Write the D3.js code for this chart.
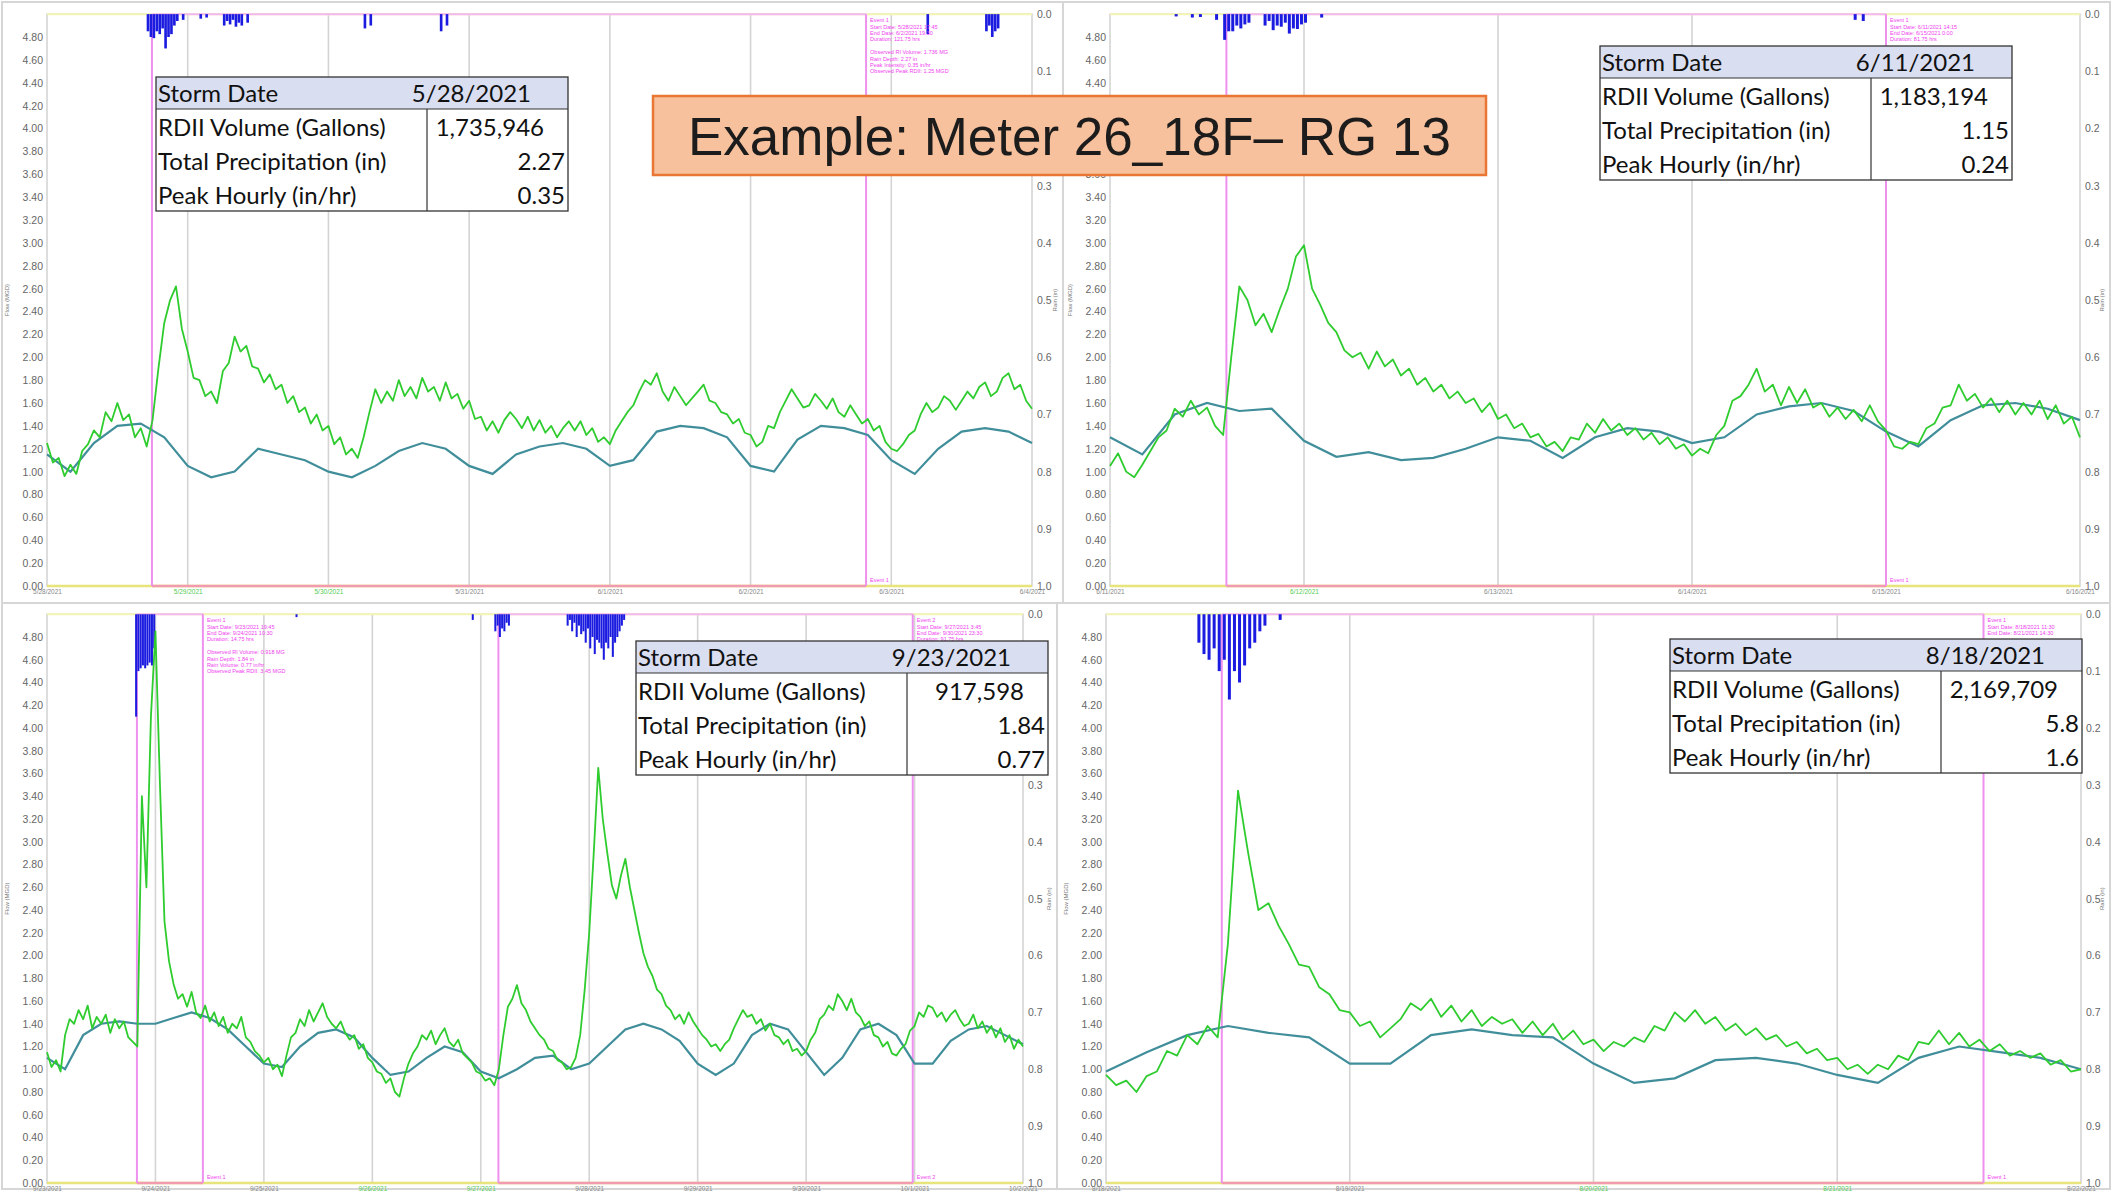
<!DOCTYPE html>
<html>
<head>
<meta charset="utf-8">
<script src="https://cdn.jsdelivr.net/npm/d3@7"></script>
<style>
body { margin: 0; background: #fff; }
svg { display: block; }
</style>
</head>
<body>
<svg id="chart"></svg>
<script>
// ---- data read off the four flow monitor hydrographs ----
// observed flow (MGD), one value per flowStep hours from the panel start
var tlFlow = [1.25,1.08,1.12,0.96,1.06,0.98,1.18,1.24,1.36,1.30,
  1.52,1.44,1.60,1.45,1.50,1.30,1.38,1.22,1.45,1.90,
  2.30,2.50,2.62,2.25,2.05,1.82,1.80,1.66,1.70,1.60,
  1.88,1.95,2.18,2.05,2.10,1.92,1.90,1.78,1.85,1.72,
  1.76,1.60,1.66,1.52,1.56,1.42,1.50,1.36,1.40,1.24,
  1.30,1.15,1.20,1.12,1.30,1.52,1.72,1.60,1.70,1.62,
  1.80,1.66,1.74,1.64,1.82,1.70,1.74,1.62,1.78,1.64,
  1.68,1.55,1.62,1.46,1.48,1.36,1.44,1.34,1.45,1.52,
  1.46,1.38,1.48,1.36,1.45,1.34,1.40,1.30,1.38,1.44,
  1.36,1.44,1.32,1.38,1.26,1.30,1.24,1.36,1.44,1.52,
  1.58,1.70,1.80,1.76,1.86,1.70,1.62,1.74,1.66,1.58,
  1.64,1.70,1.76,1.62,1.60,1.52,1.50,1.42,1.46,1.34,
  1.32,1.22,1.26,1.40,1.38,1.52,1.62,1.72,1.64,1.56,
  1.58,1.68,1.62,1.55,1.64,1.52,1.48,1.58,1.50,1.42,
  1.46,1.36,1.40,1.26,1.20,1.18,1.24,1.32,1.36,1.50,
  1.60,1.52,1.56,1.66,1.62,1.54,1.62,1.70,1.64,1.74,
  1.78,1.66,1.70,1.82,1.86,1.72,1.76,1.62,1.55];
// dry weather flow (MGD), every 4 hours
var tlDwf = [1.15,1.00,1.25,1.40,1.42,1.30,1.05,0.95,1.00,1.20,
  1.15,1.10,1.00,0.95,1.05,1.18,1.25,1.20,1.05,0.98,
  1.15,1.22,1.25,1.20,1.05,1.10,1.35,1.40,1.38,1.30,
  1.05,1.00,1.28,1.40,1.38,1.32,1.10,0.98,1.20,1.35,
  1.38,1.35,1.25];
var tlRainHours = [17,17.5,18,18.5,19,19.5,20,20.5,21,21.5,22,23,26,27,30,30.5,31,31.5,32,32.5,33,34,54,55,67,68,150,160,160.5,161,161.5,162];
var tlRainIn = [0.03,0.04,0.042,0.03,0.035,0.025,0.06,0.04,0.035,0.02,0.012,0.01,0.008,0.006,0.02,0.012,0.018,0.01,0.022,0.015,0.02,0.015,0.025,0.02,0.03,0.02,0.035,0.03,0.02,0.04,0.03,0.025];
var tlEvents = [[17.9, 139.7]];

var trFlow = [1.05,1.16,1.00,0.95,1.06,1.18,1.30,1.36,1.55,1.48,
  1.62,1.50,1.56,1.40,1.32,2.00,2.62,2.50,2.28,2.38,
  2.22,2.42,2.60,2.88,2.98,2.60,2.46,2.30,2.22,2.06,
  2.00,2.04,1.90,2.05,1.92,1.98,1.84,1.90,1.76,1.82,
  1.70,1.76,1.64,1.70,1.60,1.64,1.52,1.60,1.46,1.50,
  1.38,1.42,1.30,1.33,1.22,1.26,1.18,1.30,1.28,1.42,
  1.34,1.46,1.36,1.42,1.32,1.38,1.28,1.34,1.24,1.30,
  1.20,1.24,1.14,1.20,1.16,1.32,1.40,1.62,1.66,1.76,
  1.90,1.70,1.76,1.58,1.74,1.60,1.72,1.56,1.60,1.48,
  1.56,1.46,1.54,1.44,1.58,1.44,1.36,1.22,1.20,1.26,
  1.24,1.38,1.42,1.56,1.58,1.76,1.62,1.68,1.56,1.64,
  1.52,1.62,1.50,1.60,1.50,1.62,1.46,1.58,1.42,1.48,
  1.30];
var trDwf = [1.30,1.15,1.50,1.60,1.53,1.55,1.27,1.13,1.17,1.10,
  1.12,1.20,1.30,1.27,1.12,1.30,1.38,1.35,1.25,1.30,
  1.50,1.57,1.60,1.53,1.35,1.22,1.45,1.58,1.60,1.55,
  1.45];
var trRainHours = [8,10,11,13,14,14.5,15,15.5,16,16.5,17,19,19.5,20,20.5,21,21.5,22,22.5,23,23.5,24,26,92,93];
var trRainIn = [0.004,0.006,0.005,0.01,0.045,0.03,0.03,0.02,0.025,0.018,0.015,0.02,0.012,0.028,0.02,0.022,0.015,0.034,0.025,0.026,0.018,0.015,0.006,0.01,0.012];
var trEvents = [[14.4, 96]];

var blFlow = [1.15,1.02,1.08,0.98,1.30,1.44,1.40,1.52,1.44,1.56,
  1.36,1.46,1.40,1.48,1.32,1.44,1.36,1.42,1.28,1.24,
  1.20,3.40,2.60,4.10,4.85,3.50,2.30,1.95,1.75,1.62,
  1.66,1.55,1.68,1.50,1.45,1.56,1.42,1.50,1.38,1.46,
  1.32,1.40,1.36,1.46,1.28,1.24,1.16,1.12,1.06,1.10,
  1.00,1.04,0.94,1.12,1.28,1.32,1.44,1.38,1.52,1.42,
  1.50,1.58,1.46,1.40,1.36,1.42,1.32,1.26,1.30,1.18,
  1.22,1.10,1.06,0.98,0.96,0.88,0.92,0.80,0.76,0.92,
  1.05,1.14,1.20,1.30,1.26,1.34,1.22,1.30,1.36,1.24,
  1.20,1.26,1.14,1.10,1.06,0.98,0.96,0.90,0.92,0.86,
  1.00,1.30,1.55,1.62,1.74,1.58,1.52,1.42,1.36,1.30,
  1.26,1.18,1.16,1.08,1.06,1.00,1.02,1.10,1.30,1.70,
  2.20,2.90,3.65,3.20,2.90,2.62,2.50,2.70,2.85,2.60,
  2.40,2.20,2.02,1.90,1.82,1.70,1.66,1.56,1.52,1.44,
  1.48,1.40,1.50,1.42,1.36,1.30,1.26,1.20,1.22,1.16,
  1.22,1.26,1.36,1.44,1.52,1.46,1.48,1.40,1.44,1.34,
  1.40,1.30,1.28,1.22,1.26,1.16,1.18,1.12,1.16,1.26,
  1.32,1.44,1.48,1.56,1.52,1.66,1.60,1.52,1.62,1.50,
  1.46,1.38,1.42,1.30,1.28,1.20,1.24,1.14,1.12,1.18,
  1.22,1.34,1.38,1.50,1.46,1.56,1.54,1.46,1.50,1.42,
  1.48,1.52,1.44,1.38,1.40,1.48,1.36,1.42,1.32,1.38,
  1.28,1.36,1.24,1.30,1.18,1.26,1.20];
var blDwf = [1.10,1.00,1.30,1.40,1.42,1.40,1.40,1.45,1.50,1.45,
  1.35,1.20,1.05,1.02,1.20,1.32,1.35,1.28,1.10,0.95,
  0.98,1.10,1.20,1.15,0.98,0.92,1.00,1.10,1.12,1.00,
  1.05,1.20,1.35,1.40,1.35,1.25,1.05,0.95,1.05,1.30,
  1.40,1.35,1.15,0.95,1.10,1.35,1.40,1.30,1.05,1.05,
  1.25,1.35,1.38,1.30,1.22];
var blRainHours = [19.5,20,20.5,21,21.5,22,22.5,23,23.5,55,94,99,99.5,100,100.5,101,101.5,102,
  115,115.5,116,116.5,117,117.5,118,118.5,119,119.5,120,120.5,121,121.5,122,122.5,123,123.5,124,124.5,125,125.5,126,126.5,127,127.5];
var blRainIn = [0.18,0.1,0.095,0.09,0.095,0.09,0.085,0.09,0.06,0.005,0.01,0.03,0.02,0.04,0.025,0.03,0.015,0.02,
  0.02,0.01,0.03,0.015,0.04,0.02,0.035,0.03,0.05,0.025,0.06,0.04,0.07,0.045,0.05,0.06,0.08,0.05,0.06,0.04,0.075,0.05,0.04,0.03,0.02,0.01];
var blEvents = [[19.9, 34.5], [99.9, 191.6]];

var brFlow = [0.95,0.86,0.90,0.80,0.94,0.98,1.16,1.12,1.30,1.22,
  1.38,1.28,2.10,3.45,2.90,2.40,2.46,2.26,2.10,1.92,
  1.90,1.72,1.66,1.52,1.50,1.38,1.42,1.28,1.36,1.44,
  1.58,1.52,1.62,1.46,1.56,1.42,1.52,1.38,1.46,1.40,
  1.44,1.32,1.42,1.30,1.40,1.26,1.34,1.22,1.26,1.16,
  1.24,1.20,1.28,1.24,1.38,1.34,1.50,1.42,1.52,1.40,
  1.46,1.34,1.40,1.30,1.36,1.26,1.30,1.20,1.24,1.14,
  1.18,1.08,1.10,1.00,1.04,0.96,1.04,1.00,1.12,1.08,
  1.24,1.22,1.34,1.22,1.32,1.20,1.26,1.16,1.22,1.12,
  1.16,1.10,1.14,1.04,1.08,0.98,1.00];
var brDwf = [0.98,1.15,1.30,1.38,1.32,1.28,1.05,1.05,1.30,1.35,
  1.30,1.28,1.05,0.88,0.92,1.08,1.10,1.05,0.95,0.88,
  1.10,1.20,1.15,1.10,1.00];
var brRainHours = [9,9.5,10,10.5,11,11.5,12,12.5,13,13.5,14,14.5,15,15.5,17];
var brRainIn = [0.05,0.07,0.08,0.06,0.1,0.08,0.15,0.1,0.12,0.09,0.06,0.05,0.03,0.02,0.01];
var brEvents = [[11.4, 86.4]];

var flowTicks = [0,0.2,0.4,0.6,0.8,1.0,1.2,1.4,1.6,1.8,2.0,2.2,2.4,2.6,2.8,3.0,3.2,3.4,3.6,3.8,4.0,4.2,4.4,4.6,4.8];
var rainTicks = [0,0.1,0.2,0.3,0.4,0.5,0.6,0.7,0.8,0.9,1.0];

var tableLabels = ["Storm Date", "RDII Volume (Gallons)", "Total Precipitation (in)", "Peak Hourly (in/hr)"];
var tlTable = ["5/28/2021", "1,735,946", "2.27", "0.35"];
var trTable = ["6/11/2021", "1,183,194", "1.15", "0.24"];
var blTable = ["9/23/2021", "917,598", "1.84", "0.77"];
var brTable = ["8/18/2021", "2,169,709", "5.8", "1.6"];

var tlNotes = ["Event 1", "Start Date: 5/28/2021 17:45", "End Date: 6/2/2021 19:30", "Duration: 121.75 hrs", "", "Observed RI Volume: 1.736 MG", "Rain Depth: 2.27 in", "Peak Intensity: 0.35 in/hr", "Observed Peak RDII: 1.25 MGD"];
var trNotes = ["Event 1", "Start Date: 6/11/2021 14:15", "End Date: 6/15/2021 0:00", "Duration: 81.75 hrs"];
var blNotes1 = ["Event 1", "Start Date: 9/23/2021 19:45", "End Date: 9/24/2021 10:30", "Duration: 14.75 hrs", "", "Observed RI Volume: 0.918 MG", "Rain Depth: 1.84 in", "Rain Volume: 0.77 in/hr", "Observed Peak RDII: 3.45 MGD"];
var blNotes2 = ["Event 2", "Start Date: 9/27/2021 3:45", "End Date: 9/30/2021 23:30", "Duration: 91.75 hrs"];
var brNotes = ["Event 1", "Start Date: 8/18/2021 11:30", "End Date: 8/21/2021 14:30"];

// ---- layout ----
var W = 2112, H = 1191;
var svg = d3.select("#chart").attr("width", W).attr("height", H);

var panels = [
  {start: new Date(2021, 4, 28), days: 7, flow: tlFlow, flowStep: 1, dwf: tlDwf, rainHours: tlRainHours, rainIn: tlRainIn,
   events: tlEvents, notes: [tlNotes], table: tlTable, greenDays: [1, 2],
   left: 47, right: 1032, zero: 586, y480: 37, frame: [2, 2, 1061, 601], tableX: 156, tableY: 77, leftTitle: 9, rightTitle: 1057},
  {start: new Date(2021, 5, 11), days: 5, flow: trFlow, flowStep: 1, dwf: trDwf, rainHours: trRainHours, rainIn: trRainIn,
   events: trEvents, notes: [trNotes], table: trTable, greenDays: [1],
   left: 1110, right: 2080, zero: 586, y480: 37, frame: [1063, 2, 1047, 601], tableX: 1600, tableY: 46, leftTitle: 1072, rightTitle: 2104},
  {start: new Date(2021, 8, 23), days: 9, flow: blFlow, flowStep: 1, dwf: blDwf, rainHours: blRainHours, rainIn: blRainIn,
   events: blEvents, notes: [blNotes1, blNotes2], table: blTable, greenDays: [3, 4],
   left: 47, right: 1023, zero: 1183, y480: 637, frame: [2, 603, 1055, 586], tableX: 636, tableY: 641, leftTitle: 9, rightTitle: 1051},
  {start: new Date(2021, 7, 18), days: 4, flow: brFlow, flowStep: 1, dwf: brDwf, rainHours: brRainHours, rainIn: brRainIn,
   events: brEvents, notes: [brNotes], table: brTable, greenDays: [2, 3],
   left: 1106, right: 2081, zero: 1183, y480: 637, frame: [1057, 603, 1053, 586], tableX: 1670, tableY: 639, leftTitle: 1068, rightTitle: 2104}
];

var tickFont = "Liberation Sans, Arial, sans-serif";

var atHour = function(p, h) {
  return new Date(p.start.getTime() + h * 3600000);
};

var drawTable = function(g, tx, ty, values) {
  var w = 412, div = 271, hh = 32, rh = 34;
  g.append("rect").attr("x", tx).attr("y", ty).attr("width", w).attr("height", hh + rh * 3)
    .attr("fill", "#fff");
  g.append("rect").attr("x", tx).attr("y", ty).attr("width", w).attr("height", hh)
    .attr("fill", "#d9def0");
  g.append("line").attr("x1", tx).attr("x2", tx + w).attr("y1", ty + hh).attr("y2", ty + hh)
    .attr("stroke", "#333").attr("stroke-width", 1.2);
  g.append("line").attr("x1", tx + div).attr("x2", tx + div).attr("y1", ty + hh).attr("y2", ty + hh + rh * 3)
    .attr("stroke", "#333").attr("stroke-width", 1.2);
  g.append("rect").attr("x", tx).attr("y", ty).attr("width", w).attr("height", hh + rh * 3)
    .attr("fill", "none").attr("stroke", "#333").attr("stroke-width", 1.3);

  var pads = [37, 24, 3, 3];
  var base = function(i) { return i == 0 ? ty + 25 : ty + hh + rh * (i - 1) + 27; };

  g.selectAll(".tlabel").data(tableLabels).enter().append("text")
    .attr("x", tx + 2).attr("y", function(d, i) { return base(i); })
    .attr("font-family", "Lato, sans-serif").attr("font-size", 24).attr("fill", "#111")
    .text(function(d) { return d; });
  g.selectAll(".tvalue").data(values).enter().append("text")
    .attr("x", function(d, i) { return tx + w - pads[i]; })
    .attr("y", function(d, i) { return base(i); })
    .attr("text-anchor", "end")
    .attr("font-family", "Lato, sans-serif").attr("font-size", 24).attr("fill", "#111")
    .text(function(d) { return d; });
};

var drawPanel = function(p) {
  var g = svg.append("g");

  var x = d3.scaleTime().domain([p.start, d3.timeDay.offset(p.start, p.days)]).range([p.left, p.right]);
  var unit = (p.zero - p.y480) / 4.8;
  var y = d3.scaleLinear().domain([0, 5]).range([p.zero, p.zero - 5 * unit]);
  var top = y(5);
  var rain = d3.scaleLinear().domain([0, 1]).range([top, p.zero]);
  var hourW = (p.right - p.left) / (p.days * 24);
  var barW = Math.max(1.8, Math.min(3, hourW * 0.45));

  // panel frame + plot area
  g.append("rect").attr("x", p.frame[0]).attr("y", p.frame[1]).attr("width", p.frame[2]).attr("height", p.frame[3])
    .attr("fill", "#fff").attr("stroke", "#d6d6d6").attr("stroke-width", 2);
  g.append("rect").attr("x", p.left).attr("y", top).attr("width", p.right - p.left).attr("height", p.zero - top)
    .attr("fill", "#fff").attr("stroke", "#d2d2d2").attr("stroke-width", 1.5);

  // day gridlines
  var days = x.ticks(d3.timeDay.every(1));
  g.selectAll(".grid").data(days.slice(1, -1)).enter().append("line")
    .attr("x1", function(d) { return x(d); }).attr("x2", function(d) { return x(d); })
    .attr("y1", top).attr("y2", p.zero)
    .attr("stroke", "#d4d4d4").attr("stroke-width", 1.6);

  // yellow plot edges
  g.append("line").attr("x1", p.left).attr("x2", p.right).attr("y1", top).attr("y2", top)
    .attr("stroke", "#f4f4b4").attr("stroke-width", 2);
  g.append("line").attr("x1", p.left).attr("x2", p.right).attr("y1", p.zero).attr("y2", p.zero)
    .attr("stroke", "#e6e47a").attr("stroke-width", 2.5);

  // event windows
  p.events.forEach(function(ev) {
    var x0 = x(atHour(p, ev[0])), x1 = x(atHour(p, ev[1]));
    g.append("line").attr("x1", x0).attr("x2", x1).attr("y1", top).attr("y2", top)
      .attr("stroke", "#f4b8f0").attr("stroke-width", 2);
    g.append("line").attr("x1", x0).attr("x2", x1).attr("y1", p.zero).attr("y2", p.zero)
      .attr("stroke", "#f19ab0").attr("stroke-width", 2.5);
    [x0, x1].forEach(function(xx) {
      g.append("line").attr("x1", xx).attr("x2", xx).attr("y1", top).attr("y2", p.zero)
        .attr("stroke", "#ee90ee").attr("stroke-width", 2);
    });
  });

  // rain hanging from the top
  g.selectAll(".rain").data(p.rainIn).enter().append("rect")
    .attr("x", function(d, i) { return x(atHour(p, p.rainHours[i])); })
    .attr("y", top)
    .attr("width", barW)
    .attr("height", function(d) { return rain(d) - top; })
    .attr("fill", "#1c1ce0");

  // dry weather flow
  var dwfLine = d3.line()
    .x(function(d, i) { return x(atHour(p, i * 4)); })
    .y(function(d) { return y(d); });
  g.append("path").datum(p.dwf).attr("d", dwfLine)
    .attr("fill", "none").attr("stroke", "#418e9b").attr("stroke-width", 2.2);

  // observed flow
  var flowLine = d3.line()
    .x(function(d, i) { return x(atHour(p, i * p.flowStep)); })
    .y(function(d) { return y(d); });
  g.append("path").datum(p.flow).attr("d", flowLine)
    .attr("fill", "none").attr("stroke", "#2fcc2f").attr("stroke-width", 1.8).attr("stroke-linejoin", "round");

  // axes
  var yAxis = g.append("g").attr("transform", "translate(" + p.left + ",0)")
    .call(d3.axisLeft(y).tickValues(flowTicks).tickFormat(d3.format(".2f")).tickSize(0).tickPadding(4));
  var rAxis = g.append("g").attr("transform", "translate(" + p.right + ",0)")
    .call(d3.axisRight(rain).tickValues(rainTicks).tickFormat(d3.format(".1f")).tickSize(0).tickPadding(5));
  [yAxis, rAxis].forEach(function(a) {
    a.select(".domain").remove();
    a.selectAll("text").attr("font-family", tickFont).attr("font-size", 10.5).attr("fill", "#666");
  });

  var xAxis = g.append("g").attr("transform", "translate(0," + p.zero + ")")
    .call(d3.axisBottom(x).tickValues(days).tickFormat(d3.timeFormat("%-m/%-d/%Y")).tickSize(0).tickPadding(3));
  xAxis.select(".domain").remove();
  xAxis.selectAll("text").attr("font-family", tickFont).attr("font-size", 6.5)
    .attr("fill", function(d, i) { return p.greenDays.indexOf(i) >= 0 ? "#5c5" : "#888"; });

  // axis titles
  var mid = (top + p.zero) / 2;
  g.append("text").attr("transform", "translate(" + p.leftTitle + "," + mid + ") rotate(-90)")
    .attr("text-anchor", "middle").attr("font-family", tickFont).attr("font-size", 6).attr("fill", "#777")
    .text("Flow (MGD)");
  g.append("text").attr("transform", "translate(" + p.rightTitle + "," + mid + ") rotate(-90)")
    .attr("text-anchor", "middle").attr("font-family", tickFont).attr("font-size", 6).attr("fill", "#777")
    .text("Rain (in)");

  // event notes beside each event end line
  p.events.forEach(function(ev, k) {
    var nx = x(atHour(p, ev[1])) + 4;
    var notes = p.notes[k] || [];
    g.selectAll(".note" + k).data(notes).enter().append("text")
      .attr("x", nx).attr("y", function(d, i) { return top + 8 + i * 6.4; })
      .attr("font-family", tickFont).attr("font-size", 5.5).attr("fill", "#f040f0")
      .text(function(d) { return d; });
    g.append("text").attr("x", nx).attr("y", p.zero - 4)
      .attr("font-family", tickFont).attr("font-size", 5.5).attr("fill", "#f040f0")
      .text("Event " + (k + 1));
  });

  drawTable(g, p.tableX, p.tableY, p.table);
};

panels.forEach(drawPanel);

// title banner
var banner = svg.append("g");
banner.append("rect").attr("x", 653).attr("y", 96).attr("width", 833).attr("height", 79)
  .attr("fill", "#f8c19d").attr("stroke", "#ea7634").attr("stroke-width", 2.5);
banner.append("text").attr("x", 1069.5).attr("y", 155)
  .attr("text-anchor", "middle").attr("font-family", "Liberation Sans, Arial, sans-serif")
  .attr("font-size", 53).attr("fill", "#1c1c1c")
  .text("Example: Meter 26_18F\u2013 RG 13");
</script>
</body>
</html>
